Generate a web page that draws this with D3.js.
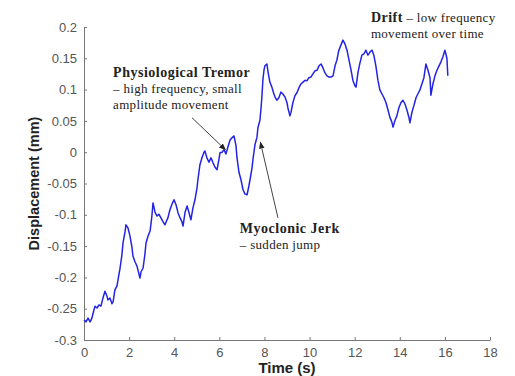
<html>
<head>
  <script src="https://d3js.org/d3.v7.min.js"></script>
  <style>
    body { margin: 0; background: white; }
    .tick text { font-family: "Liberation Sans", Arial, sans-serif; font-size: 13px; fill: #555; }
    .ann { font-family: "Liberation Serif", "Times New Roman", serif; fill: #222; letter-spacing: 0.3px; }
  </style>
</head>
<body>
<svg id="chart" width="515" height="376"></svg>
<script>
// time (s) of each point
var timeS = [0, 0.09, 0.18, 0.27, 0.35, 0.44, 0.49, 0.58, 0.66, 0.75, 0.84, 0.93, 1.02, 1.06, 1.15, 1.24, 1.29, 1.37, 1.46, 1.55,
  1.60, 1.68, 1.73, 1.82, 1.86, 1.95, 2.04, 2.13, 2.17, 2.26, 2.35, 2.39, 2.48, 2.53, 2.62, 2.70, 2.75, 2.84, 2.93, 3.01,
  3.06, 3.15, 3.24, 3.32, 3.41, 3.50, 3.59, 3.68, 3.72, 3.81, 3.90, 3.99, 4.08, 4.17, 4.26, 4.34, 4.39, 4.48, 4.57, 4.65,
  4.74, 4.83, 4.92, 5.01, 5.05, 5.14, 5.23, 5.32, 5.36, 5.45, 5.54, 5.63, 5.72, 5.81, 5.90, 5.98, 6.03, 6.12, 6.21, 6.29,
  6.38, 6.47, 6.56, 6.65, 6.74, 6.78, 6.87, 6.96, 7.05, 7.14, 7.23, 7.31, 7.36, 7.45, 7.49, 7.58, 7.67, 7.71, 7.80, 7.85,
  7.89, 7.93, 7.98, 8.02, 8.11, 8.16, 8.24, 8.33, 8.42, 8.47, 8.55, 8.64, 8.73, 8.82, 8.91, 9.00, 9.04, 9.13, 9.18, 9.26,
  9.35, 9.44, 9.53, 9.62, 9.71, 9.80, 9.88, 9.97, 10.06, 10.15, 10.24, 10.33, 10.42, 10.51, 10.59, 10.68, 10.77, 10.86, 10.95, 11.04,
  11.13, 11.21, 11.30, 11.39, 11.48, 11.57, 11.66, 11.75, 11.84, 11.92, 12.01, 12.06, 12.15, 12.23, 12.32, 12.41, 12.50, 12.59, 12.68, 12.77,
  12.85, 12.94, 13.03, 13.12, 13.21, 13.30, 13.39, 13.48, 13.56, 13.65, 13.70, 13.79, 13.87, 13.96, 14.05, 14.14, 14.23, 14.32, 14.41, 14.45,
  14.54, 14.63, 14.72, 14.80, 14.89, 14.98, 15.07, 15.16, 15.25, 15.34, 15.38, 15.47, 15.56, 15.65, 15.74, 15.82, 15.91, 16.00, 16.09, 16.13];

// displacement (mm) at those times
var displacementMm = [-0.268, -0.271, -0.265, -0.271, -0.265, -0.252, -0.246, -0.249, -0.244, -0.246, -0.233, -0.222, -0.230, -0.236, -0.233, -0.242, -0.239, -0.220, -0.214, -0.195,
  -0.185, -0.164, -0.145, -0.127, -0.116, -0.121, -0.134, -0.153, -0.166, -0.175, -0.182, -0.188, -0.201, -0.191, -0.185, -0.163, -0.145, -0.134, -0.126, -0.102,
  -0.081, -0.096, -0.102, -0.099, -0.105, -0.111, -0.116, -0.108, -0.105, -0.092, -0.083, -0.076, -0.084, -0.097, -0.105, -0.111, -0.118, -0.096, -0.086, -0.096,
  -0.108, -0.089, -0.076, -0.057, -0.044, -0.020, -0.009, 0.000, 0.002, -0.009, -0.016, -0.009, -0.017, -0.024, -0.028, -0.012, -0.001, 0.000, 0.004, -0.003,
  0.008, 0.019, 0.023, 0.026, 0.010, -0.008, -0.032, -0.044, -0.060, -0.067, -0.068, -0.054, -0.044, -0.025, -0.012, 0.012, 0.024, 0.039, 0.051, 0.071,
  0.090, 0.115, 0.131, 0.138, 0.141, 0.128, 0.112, 0.104, 0.093, 0.088, 0.083, 0.087, 0.096, 0.093, 0.088, 0.079, 0.071, 0.058, 0.064, 0.079,
  0.090, 0.095, 0.103, 0.109, 0.112, 0.115, 0.114, 0.119, 0.120, 0.125, 0.130, 0.131, 0.138, 0.141, 0.135, 0.127, 0.122, 0.120, 0.120, 0.122,
  0.138, 0.147, 0.163, 0.171, 0.179, 0.173, 0.163, 0.147, 0.131, 0.115, 0.106, 0.104, 0.128, 0.142, 0.155, 0.157, 0.163, 0.155, 0.160, 0.163,
  0.155, 0.138, 0.115, 0.099, 0.093, 0.087, 0.079, 0.067, 0.056, 0.048, 0.040, 0.051, 0.058, 0.071, 0.079, 0.083, 0.077, 0.067, 0.055, 0.047,
  0.064, 0.075, 0.087, 0.093, 0.099, 0.109, 0.119, 0.141, 0.131, 0.119, 0.091, 0.109, 0.122, 0.131, 0.138, 0.144, 0.152, 0.163, 0.150, 0.122];

var xTicks = [0, 2, 4, 6, 8, 10, 12, 14, 16, 18];
var yTicks = [-0.3, -0.25, -0.2, -0.15, -0.1, -0.05, 0, 0.05, 0.1, 0.15, 0.2];

var svg = d3.select("#chart");

var x = d3.scaleLinear().domain([0, 18]).range([84, 490]);
var y = d3.scaleLinear().domain([-0.3, 0.2]).range([340, 27]);

var axisColor = "#777";

var xAxis = svg.append("g")
  .attr("transform", "translate(0," + y(-0.3) + ")")
  .call(d3.axisBottom(x).tickValues(xTicks).tickSizeInner(-3).tickSizeOuter(0).tickPadding(8).tickFormat(d3.format("d")));
xAxis.selectAll("line, path").attr("stroke", axisColor);

var yAxis = svg.append("g")
  .attr("transform", "translate(" + x(0) + ",0)")
  .call(d3.axisLeft(y).tickValues(yTicks).tickSizeInner(-3).tickSizeOuter(0).tickPadding(7).tickFormat(d => String(+d.toFixed(2))));
yAxis.selectAll("line, path").attr("stroke", axisColor);

var points = timeS.map((t, i) => [t, displacementMm[i]]);

svg.append("path")
  .datum(points)
  .attr("fill", "none")
  .attr("stroke", "#2323e6")
  .attr("stroke-width", 1.5)
  .attr("stroke-linejoin", "round")
  .attr("d", d3.line().x(d => x(d[0])).y(d => y(d[1])));

// axis titles
svg.append("text")
  .attr("x", x(9)).attr("y", 373)
  .attr("text-anchor", "middle")
  .style("font-family", "Liberation Sans, Arial, sans-serif")
  .style("font-size", "15px").style("font-weight", "bold").style("fill", "#222")
  .text("Time (s)");

svg.append("text")
  .attr("transform", "translate(39," + y(-0.05) + ") rotate(-90)")
  .attr("text-anchor", "middle")
  .style("font-family", "Liberation Sans, Arial, sans-serif")
  .style("font-size", "14.5px").style("font-weight", "bold").style("fill", "#222")
  .text("Displacement (mm)");

// arrowhead
svg.append("defs").append("marker")
  .attr("id", "head")
  .attr("viewBox", "0 0 10 10")
  .attr("refX", 9).attr("refY", 5)
  .attr("markerWidth", 7).attr("markerHeight", 7)
  .attr("orient", "auto")
  .append("path").attr("d", "M0,1 L10,5 L0,9 Z").attr("fill", "#222");

function arrow(t0, v0, t1, v1) {
  svg.append("line")
    .attr("x1", x(t0)).attr("y1", y(v0))
    .attr("x2", x(t1)).attr("y2", y(v1))
    .attr("stroke", "#444").attr("stroke-width", 1)
    .attr("marker-end", "url(#head)");
}

function note(t, v, head, rest, lines) {
  var txt = svg.append("text").attr("class", "ann").attr("x", x(t)).attr("y", y(v));
  txt.append("tspan").style("font-weight", "bold").style("font-size", "14px").style("letter-spacing", "0.5px").text(head);
  if (rest) txt.append("tspan").style("font-size", "13px").text(rest);
  lines.forEach((l, i) => {
    svg.append("text").attr("class", "ann")
      .attr("x", x(t)).attr("y", y(v) + 16 * (i + 1))
      .style("font-size", "13px")
      .text(l);
  });
}

note(1.29, 0.120, "Physiological Tremor", null, ["\u2013 high frequency, small", "amplitude movement"]);
arrow(4.79, 0.055, 6.27, 0.004);

note(12.72, 0.208, "Drift", " \u2013 low frequency", ["movement over time"]);

note(6.91, -0.129, "Myoclonic Jerk", null, ["\u2013 sudden jump"]);
arrow(8.6, -0.105, 7.82, 0.016);
</script>
</body>
</html>
